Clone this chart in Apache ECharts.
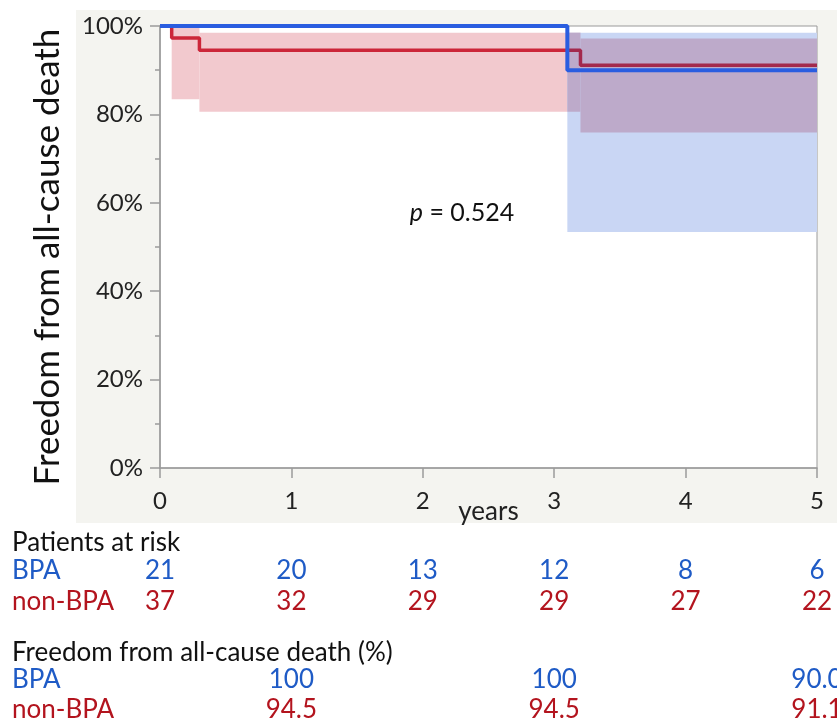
<!DOCTYPE html>
<html>
<head>
<meta charset="utf-8">
<title>Freedom from all-cause death</title>
<script src="https://cdn.jsdelivr.net/npm/echarts@6/dist/echarts.min.js"></script>
<style>
  html, body { margin: 0; padding: 0; background: #fff; }
  #chart { width: 837px; height: 722px; }
</style>
</head>
<body>
<div id="chart"></div>
<script>
// Kaplan–Meier estimates, [years, survival %]
const bpaCurve = [[0, 100], [3.10, 90.0], [5, 90.0]];
const nonBpaCurve = [[0, 100], [0.089, 97.3], [0.30, 94.5], [3.20, 91.1], [5, 91.1]];

// Confidence bands per step: [from year, to year, lower %, upper %]
const bpaBand = [[3.10, 5, 53.4, 98.5]];
const nonBpaBand = [[0.089, 0.30, 83.4, 100], [0.30, 3.20, 80.6, 98.5], [3.20, 5, 75.9, 97.2]];

// Number-at-risk table
const riskYears = [0, 1, 2, 3, 4, 5];
const bpaAtRisk = [21, 20, 13, 12, 8, 6];
const nonBpaAtRisk = [37, 32, 29, 29, 27, 22];

// Freedom from all-cause death (%) table
const freedomYears = [1, 3, 5];
const bpaFreedom = ['100', '100', '90.0'];
const nonBpaFreedom = ['94.5', '94.5', '91.1'];

const yTicks = [0, 20, 40, 60, 80, 100];
const pValue = '0.524';
const xAxisTitle = 'years';
const yAxisTitle = 'Freedom from all-cause death';

const FONT = 'Lato, "Open Sans", sans-serif';
const BLUE_TXT = '#1f5bc6';
const RED_TXT = '#b3141e';
const RED_LINE = '#cc2639';
const RED_LINE_SHADED = '#a3294c';

// Region where the two confidence bands overlap, step by step
const overlapBand = [];
bpaBand.forEach(b => {
  nonBpaBand.forEach(r => {
    const t0 = Math.max(b[0], r[0]), t1 = Math.min(b[1], r[1]);
    const lo = Math.max(b[2], r[2]), hi = Math.min(b[3], r[3]);
    if (t1 > t0 && hi > lo) overlapBand.push([t0, t1, lo, hi]);
  });
});

// The non-BPA line reads darker where it runs inside the BPA band
const tFirst = nonBpaCurve[0][0], tLast = nonBpaCurve[nonBpaCurve.length - 1][0];
const shadeFrom = (bpaBand[0][0] - tFirst) / (tLast - tFirst);
const nonBpaLineColor = new echarts.graphic.LinearGradient(0, 0, 1, 0, [
  { offset: 0, color: RED_LINE },
  { offset: shadeFrom, color: RED_LINE },
  { offset: shadeFrom, color: RED_LINE_SHADED },
  { offset: 1, color: RED_LINE_SHADED }
]);

const chart = echarts.init(document.getElementById('chart'), null, { renderer: 'canvas' });

function bandRenderer(fill) {
  return function (params, api) {
    const a = api.coord([api.value(0), api.value(3)]);
    const b = api.coord([api.value(1), api.value(2)]);
    return {
      type: 'rect',
      shape: { x: a[0], y: a[1], width: b[0] - a[0], height: b[1] - a[1] },
      style: { fill: fill }
    };
  };
}

chart.setOption({
  backgroundColor: '#ffffff',
  animation: false,
  textStyle: { fontFamily: FONT },
  grid: {
    left: 160, top: 26, right: 20, bottom: 254,
    show: true, backgroundColor: '#ffffff', borderColor: '#9a9a9a', borderWidth: 1
  },
  xAxis: {
    type: 'value', min: 0, max: 5, interval: 1,
    axisLine: { show: true, lineStyle: { color: '#9a9a9a', width: 1.5 } },
    axisTick: { show: true, length: 10, lineStyle: { color: '#9a9a9a', width: 1.5 } },
    axisLabel: { fontSize: 24, color: '#222', margin: 21, fontFamily: FONT },
    splitLine: { show: false }
  },
  yAxis: {
    type: 'value', min: 0, max: 100, interval: 20,
    axisLine: { show: true, lineStyle: { color: '#9a9a9a', width: 1.5 } },
    axisTick: { show: true, length: 10, lineStyle: { color: '#9a9a9a', width: 1.5 } },
    minorTick: { show: true, splitNumber: 2, length: 5, lineStyle: { color: '#9a9a9a', width: 1.5 } },
    axisLabel: {
      fontSize: 24, color: '#222', margin: 17, fontFamily: FONT,
      formatter: v => (yTicks.indexOf(v) >= 0 ? v + '%' : '')
    },
    splitLine: { show: false }
  },
  series: [
    {
      name: 'non-BPA CI', type: 'custom', z: 1,
      renderItem: bandRenderer('#f2c9ce'),
      data: nonBpaBand, silent: true
    },
    {
      name: 'BPA CI', type: 'custom', z: 2,
      renderItem: bandRenderer('#c9d6f4'),
      data: bpaBand, silent: true
    },
    {
      name: 'CI overlap', type: 'custom', z: 3,
      renderItem: bandRenderer('#bdaaca'),
      data: overlapBand, silent: true
    },
    {
      name: 'non-BPA', type: 'line', z: 4, step: 'end', showSymbol: false, symbol: 'none',
      lineStyle: { color: nonBpaLineColor, width: 3.5 }, data: nonBpaCurve, silent: true
    },
    {
      name: 'BPA', type: 'line', z: 5, step: 'end', showSymbol: false, symbol: 'none',
      lineStyle: { color: '#2a5de0', width: 4 }, data: bpaCurve, silent: true
    }
  ]
});

// Panel background, axis titles, p value and the tables below the plot
const xMid = chart.convertToPixel({ xAxisIndex: 0 }, 2.5);
const elements = [
  {
    type: 'rect', z: -10, silent: true,
    shape: { x: 76, y: 10, width: 761, height: 513 },
    style: { fill: '#f4f4f0' }
  },
  {
    type: 'text', x: 48, y: 257, rotation: Math.PI / 2, silent: true,
    style: {
      text: yAxisTitle, font: '35px ' + FONT, fill: '#111',
      align: 'center', verticalAlign: 'middle'
    }
  },
  {
    type: 'text', x: xMid, y: 512, silent: true,
    style: {
      text: xAxisTitle, font: '26px ' + FONT, fill: '#222',
      align: 'center', verticalAlign: 'middle'
    }
  },
  {
    type: 'text', x: 462, y: 213, silent: true,
    style: {
      text: '{i|p} = ' + pValue, align: 'center', verticalAlign: 'middle',
      font: '25px ' + FONT, fill: '#111',
      rich: { i: { fontStyle: 'italic', fontSize: 25, fontFamily: FONT, fill: '#111' } }
    }
  }
];

function addText(text, x, y, color, align) {
  elements.push({
    type: 'text', x: x, y: y, silent: true,
    style: { text: text, font: '26px ' + FONT, fill: color, align: align || 'left', verticalAlign: 'middle' }
  });
}

const rows = { risk: 543, riskBpa: 571, riskNon: 602, free: 653, freeBpa: 680, freeNon: 710 };

addText('Patients at risk', 12, rows.risk, '#111');
addText('BPA', 12, rows.riskBpa, BLUE_TXT);
addText('non-BPA', 12, rows.riskNon, RED_TXT);
riskYears.forEach((t, i) => {
  const x = chart.convertToPixel({ xAxisIndex: 0 }, t);
  addText(String(bpaAtRisk[i]), x, rows.riskBpa, BLUE_TXT, 'center');
  addText(String(nonBpaAtRisk[i]), x, rows.riskNon, RED_TXT, 'center');
});

addText('Freedom from all-cause death (%)', 12, rows.free, '#111');
addText('BPA', 12, rows.freeBpa, BLUE_TXT);
addText('non-BPA', 12, rows.freeNon, RED_TXT);
freedomYears.forEach((t, i) => {
  const x = chart.convertToPixel({ xAxisIndex: 0 }, t);
  addText(bpaFreedom[i], x, rows.freeBpa, BLUE_TXT, 'center');
  addText(nonBpaFreedom[i], x, rows.freeNon, RED_TXT, 'center');
});

chart.setOption({ graphic: { elements: elements } });
</script>
</body>
</html>
